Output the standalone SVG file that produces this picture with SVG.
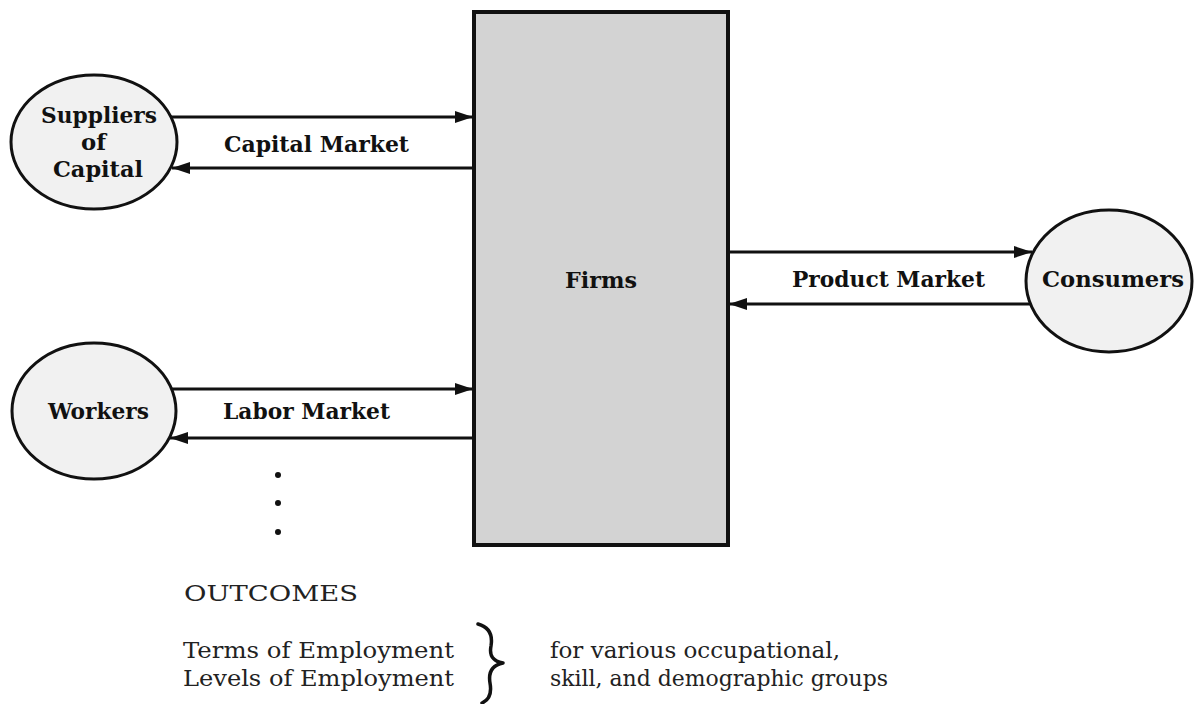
<svg xmlns="http://www.w3.org/2000/svg" width="1202" height="704" viewBox="0 0 1202 704">
  <style>
    .bg { fill: #ffffff; }
    .node-ellipse { fill: #f1f1f1; stroke: #111111; stroke-width: 3; }
    .firms-rect { fill: #d3d3d3; stroke: #111111; stroke-width: 4; }
    .lbl { font-family: "DejaVu Serif", "Liberation Serif", serif; font-weight: bold; font-size: 22px; fill: #111111; }
    .txt { font-family: "DejaVu Serif", "Liberation Serif", serif; font-size: 22px; fill: #222222; }
    .conn { stroke: #111111; stroke-width: 3; fill: none; marker-end: url(#arrow); }
    .dot { fill: #111111; }
    .brace { fill: none; stroke: #111111; stroke-width: 3.5; stroke-linecap: round; stroke-linejoin: round; }
  </style>
  <defs>
    <marker id="arrow" markerUnits="userSpaceOnUse" markerWidth="18" markerHeight="12" refX="18" refY="6" orient="auto">
      <path d="M0,0 L18,6 L0,12 Z" fill="#111111"/>
    </marker>
  </defs>

  <rect class="bg" x="0" y="0" width="1202" height="704"/>

  <g id="connectors">
    <line class="conn" x1="171" y1="117" x2="473" y2="117"/>
    <line class="conn" x1="473" y1="168" x2="172" y2="168"/>
    <line class="conn" x1="171" y1="389" x2="473" y2="389"/>
    <line class="conn" x1="473" y1="438" x2="170" y2="438"/>
    <line class="conn" x1="729" y1="252" x2="1032" y2="252"/>
    <line class="conn" x1="1030" y1="304" x2="729" y2="304"/>
  </g>

  <g id="label-capital-market">
    <text class="lbl" x="224" y="152" textLength="185" lengthAdjust="spacingAndGlyphs">Capital Market</text>
  </g>
  <g id="label-labor-market">
    <text class="lbl" x="223" y="419" textLength="167" lengthAdjust="spacingAndGlyphs">Labor Market</text>
  </g>
  <g id="label-product-market">
    <text class="lbl" x="792" y="287" textLength="193" lengthAdjust="spacingAndGlyphs">Product Market</text>
  </g>

  <g id="node-suppliers">
    <ellipse class="node-ellipse" cx="94" cy="142" rx="83" ry="67"/>
    <text class="lbl" x="41" y="123" textLength="116" lengthAdjust="spacingAndGlyphs">Suppliers</text>
    <text class="lbl" x="81" y="150" textLength="25" lengthAdjust="spacingAndGlyphs">of</text>
    <text class="lbl" x="53" y="177" textLength="90" lengthAdjust="spacingAndGlyphs">Capital</text>
  </g>

  <g id="node-workers">
    <ellipse class="node-ellipse" cx="94" cy="411" rx="82" ry="68"/>
    <text class="lbl" x="48" y="419" textLength="101" lengthAdjust="spacingAndGlyphs">Workers</text>
  </g>

  <g id="node-firms">
    <rect class="firms-rect" x="474" y="12" width="254" height="533"/>
    <text class="lbl" x="565" y="288" textLength="72" lengthAdjust="spacingAndGlyphs">Firms</text>
  </g>

  <g id="node-consumers">
    <ellipse class="node-ellipse" cx="1109" cy="281" rx="83" ry="71"/>
    <text class="lbl" x="1042" y="287" textLength="142" lengthAdjust="spacingAndGlyphs">Consumers</text>
  </g>

  <g id="ellipsis-dots">
    <circle class="dot" cx="278" cy="475" r="3"/>
    <circle class="dot" cx="278" cy="503" r="3"/>
    <circle class="dot" cx="278" cy="532" r="3"/>
  </g>

  <g id="outcomes">
    <text class="txt" x="184" y="601" textLength="174" lengthAdjust="spacingAndGlyphs">OUTCOMES</text>
    <text class="txt" x="183" y="658" textLength="271" lengthAdjust="spacingAndGlyphs">Terms of Employment</text>
    <text class="txt" x="183" y="686" textLength="271" lengthAdjust="spacingAndGlyphs">Levels of Employment</text>
    <path class="brace" d="M478 624 C489 627 493 634 491 646 C489 656 493 661 503 663 C493 665 488 671 490 683 C492 694 489 700 482 703"/>
    <text class="txt" x="550" y="658" textLength="290" lengthAdjust="spacingAndGlyphs">for various occupational,</text>
    <text class="txt" x="550" y="686" textLength="338" lengthAdjust="spacingAndGlyphs">skill, and demographic groups</text>
  </g>
</svg>
